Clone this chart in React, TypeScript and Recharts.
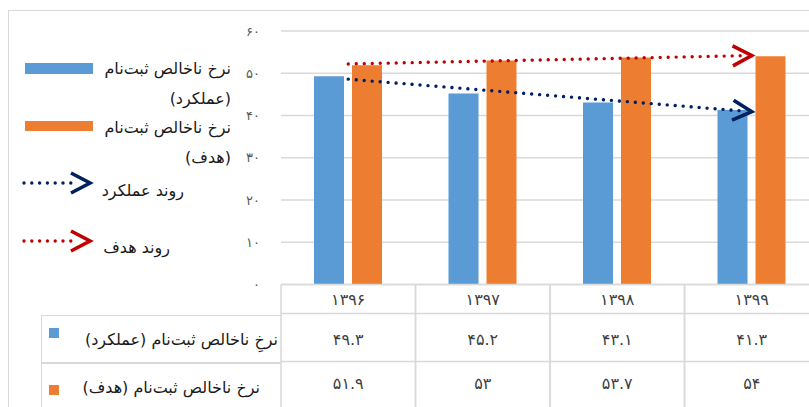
import React from 'react';
import { BarChart, Bar, XAxis, YAxis, CartesianGrid, ReferenceLine } from 'recharts';

// ---------- data ----------
const years = ['۱۳۹۶', '۱۳۹۷', '۱۳۹۸', '۱۳۹۹'];
const actualRate = [49.3, 45.2, 43.1, 41.3];
const targetRate = [51.9, 53, 53.7, 54];
const actualLabels = ['۴۹.۳', '۴۵.۲', '۴۳.۱', '۴۱.۳'];
const targetLabels = ['۵۱.۹', '۵۳', '۵۳.۷', '۵۴'];
const yTicks = [0, 10, 20, 30, 40, 50, 60];
const yTickLabels = ['۰', '۱۰', '۲۰', '۳۰', '۴۰', '۵۰', '۶۰'];
// trend lines: value at first year and at last year
const actualTrend = [48.6, 40.9];
const targetTrend = [52.2, 54.2];
const legendActualLines = ['نرخ ناخالص ثبت‌نام', '(عملکرد)'];
const legendTargetLines = ['نرخ ناخالص ثبت‌نام', '(هدف)'];
const trendNames = ['روند عملکرد', 'روند هدف'];
const tableRowNames = ['نرخِ ناخالص ثبت‌نام (عملکرد)', 'نرخ ناخالص ثبت‌نام (هدف)'];

const data = years.map((y, i) => ({
  year: y,
  actual: actualRate[i],
  target: targetRate[i],
  actualLabel: actualLabels[i],
  targetLabel: targetLabels[i],
}));

// ---------- styles ----------
const BLUE = '#5b9bd5';
const ORANGE = '#ed7d31';
const NAVY = '#002060';
const RED = '#c00000';
const GRID = '#d9d9d9';
const FA_FONT = "'DejaVu Sans', 'Noto Sans', sans-serif";

const CHART_W = 830;
const CHART_H = 420;
const PLOT_TOP = 31;
const PLOT_H = 253.5;
const PLOT_LEFT = 281;

const trendShape = (color: string) => (p: any) => {
  const { x1, y1, x2, y2 } = p;
  const deg = (Math.atan2(y2 - y1, x2 - x1) * 180) / Math.PI;
  const len = Math.hypot(x2 - x1, y2 - y1);
  return (
    <g transform={`translate(${x1},${y1}) rotate(${deg})`}>
      <line x1={0} y1={0} x2={len - 6} y2={0} stroke={color} strokeWidth={3.4}
        strokeDasharray="0 8" strokeLinecap="round" />
      <path d={`M${len - 19},-10 L${len},0 L${len - 19},10`} fill="none" stroke={color}
        strokeWidth={3.6} strokeLinejoin="miter" />
    </g>
  );
};

const TableTick = (props: any) => {
  const { x, y, payload, index } = props;
  const half = payload && payload.offset ? payload.offset : 67.25;
  const left = x - half;
  const right = x + half;
  const r1 = y + 29;
  const r2 = y + 77;
  const r3 = y + 140;
  const d = data[index] || data.find((e) => e.year === payload.value);
  return (
    <g>
      <line x1={left} y1={y} x2={right} y2={y} stroke={GRID} strokeWidth={1.5} />
      <line x1={left} y1={r1} x2={right} y2={r1} stroke={GRID} strokeWidth={1.5} />
      <line x1={left} y1={r2} x2={right} y2={r2} stroke={GRID} strokeWidth={1.5} />
      <line x1={left} y1={y} x2={left} y2={r3} stroke={GRID} strokeWidth={1.5} />
      <line x1={right} y1={y} x2={right} y2={r3} stroke={GRID} strokeWidth={1.5} />
      <text x={x} y={y + 15} textAnchor="middle" dominantBaseline="central"
        fontFamily={FA_FONT} fontSize={16} fill="#404040">{payload.value}</text>
      <text x={x} y={y + 55} textAnchor="middle" dominantBaseline="central"
        fontFamily={FA_FONT} fontSize={16} fill="#404040">{d ? d.actualLabel : ''}</text>
      <text x={x} y={y + 99} textAnchor="middle" dominantBaseline="central"
        fontFamily={FA_FONT} fontSize={16} fill="#404040">{d ? d.targetLabel : ''}</text>
    </g>
  );
};

const YTick = (props: any) => {
  const { x, y, payload } = props;
  const i = yTicks.indexOf(payload.value);
  return (
    <text x={x} y={y} textAnchor="end" dominantBaseline="central"
      fontFamily={FA_FONT} fontSize={13} fill="#595959">{yTickLabels[i]}</text>
  );
};

const faText = (txt: string, right: number, cy: number, size = 16) => (
  <div
    dir="rtl"
    style={{
      position: 'absolute',
      left: right - 300,
      width: 300,
      top: cy - 15,
      height: 30,
      lineHeight: '30px',
      textAlign: 'right',
      fontFamily: FA_FONT,
      fontSize: size,
      color: '#1a1a1a',
      whiteSpace: 'nowrap',
    }}
  >
    {txt}
  </div>
);

const TrendIcon = ({ color, cy }: { color: string; cy: number }) => (
  <svg style={{ position: 'absolute', left: 0, top: cy - 15 }} width={100} height={30}>
    <line x1={24} y1={15} x2={72} y2={15} stroke={color} strokeWidth={3.4}
      strokeDasharray="0 7.8" strokeLinecap="round" />
    <path d="M71,5 L90,15 L71,25" fill="none" stroke={color} strokeWidth={3.6} />
  </svg>
);

export default function App() {
  return (
    <div style={{ position: 'absolute', left: 0, top: 0, width: 809, height: 407,
      overflow: 'hidden', background: '#fff' }}>
      {/* outer frame */}
      <div style={{ position: 'absolute', left: 8, top: 10, width: 900, height: 500,
        border: `1.5px solid ${GRID}` }} />

      <div style={{ position: 'absolute', left: 0, top: 0 }}>
        <BarChart width={CHART_W} height={CHART_H} data={data}
          margin={{ top: PLOT_TOP, right: CHART_W - 819, bottom: 0, left: 0 }}
          barSize={30} barGap={8}>
          <CartesianGrid horizontal vertical={false} stroke={GRID} strokeWidth={1.5} />
          <YAxis type="number" domain={[0, 60]} ticks={yTicks} width={PLOT_LEFT}
            axisLine={false} tickLine={false} tickSize={0} tickMargin={21} tick={<YTick />} />
          <XAxis dataKey="year" type="category" height={CHART_H - PLOT_TOP - PLOT_H}
            axisLine={false} tickLine={false} tickSize={0} tickMargin={0}
            interval={0} tick={<TableTick />} />
          <Bar dataKey="actual" fill={BLUE} isAnimationActive={false} />
          <Bar dataKey="target" fill={ORANGE} isAnimationActive={false} />
          <ReferenceLine
            segment={[{ x: years[0], y: targetTrend[0] }, { x: years[years.length - 1], y: targetTrend[1] }]}
            shape={trendShape(RED)} ifOverflow="visible" />
          <ReferenceLine
            segment={[{ x: years[0], y: actualTrend[0] }, { x: years[years.length - 1], y: actualTrend[1] }]}
            shape={trendShape(NAVY)} ifOverflow="visible" />
        </BarChart>
      </div>

      {/* legend */}
      <div style={{ position: 'absolute', left: 25, top: 63, width: 68, height: 11, background: BLUE }} />
      {faText(legendActualLines[0], 231, 69)}
      {faText(legendActualLines[1], 231, 99)}
      <div style={{ position: 'absolute', left: 25, top: 121, width: 68, height: 10, background: ORANGE }} />
      {faText(legendTargetLines[0], 231, 128)}
      {faText(legendTargetLines[1], 231, 158)}
      <TrendIcon color={NAVY} cy={183} />
      {faText(trendNames[0], 184, 191)}
      <TrendIcon color={RED} cy={241} />
      {faText(trendNames[1], 170, 248)}

      {/* table row headers */}
      <div style={{ position: 'absolute', left: 41, top: 315, width: 240, height: 200,
        borderLeft: `1.5px solid ${GRID}`, borderTop: `1.5px solid ${GRID}` }} />
      <div style={{ position: 'absolute', left: 41, top: 362, width: 240, height: 1.5, background: GRID }} />
      <div style={{ position: 'absolute', left: 49, top: 328, width: 10, height: 10, background: BLUE }} />
      {faText(tableRowNames[0], 278, 340)}
      <div style={{ position: 'absolute', left: 49, top: 385, width: 10, height: 10, background: ORANGE }} />
      {faText(tableRowNames[1], 260, 388)}
    </div>
  );
}
